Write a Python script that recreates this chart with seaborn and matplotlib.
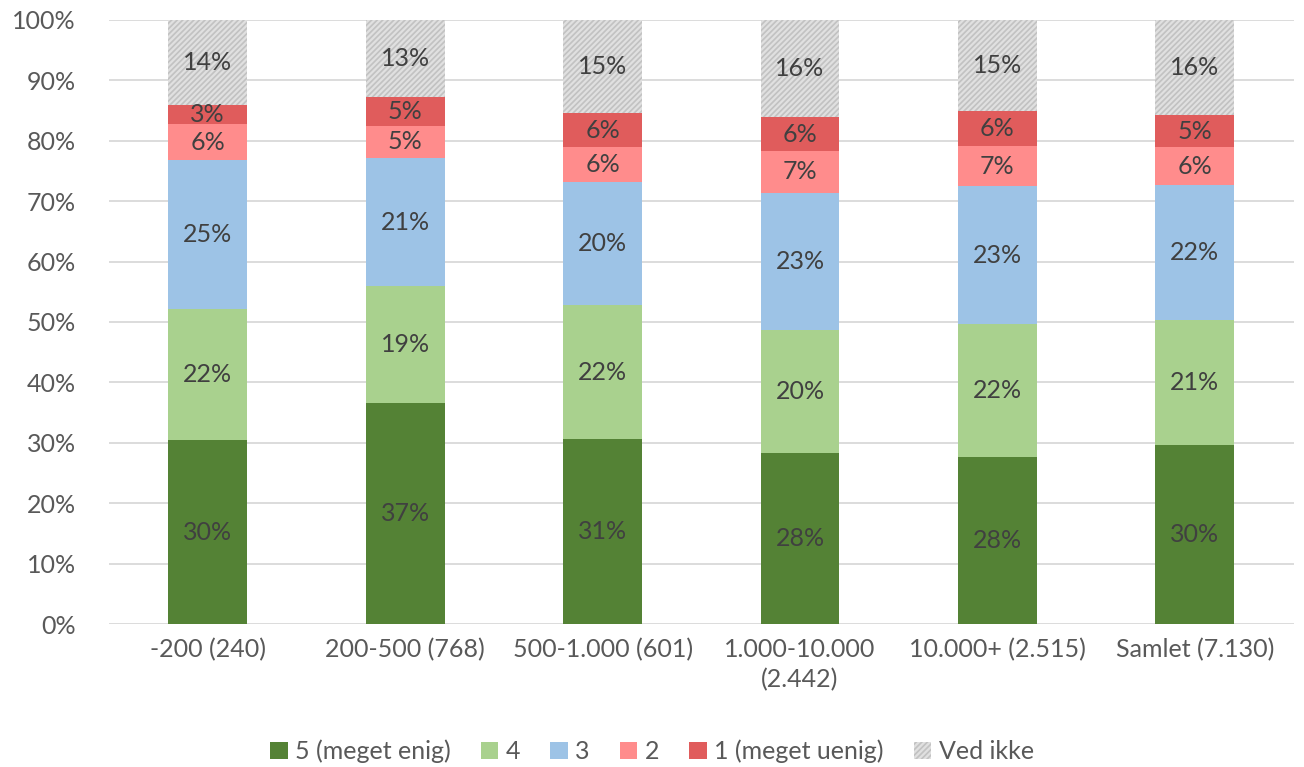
import numpy as np
import pandas as pd
import matplotlib
matplotlib.use('Agg')
import matplotlib.pyplot as plt
from matplotlib.patches import Patch
from matplotlib.ticker import PercentFormatter
import seaborn as sns

# data (percent of respondents)
groups = ['-200 (240)', '200-500 (768)', '500-1.000 (601)',
          '1.000-10.000\n(2.442)', '10.000+ (2.515)', 'Samlet (7.130)']
series_names = ['5 (meget enig)', '4', '3', '2', '1 (meget uenig)', 'Ved ikke']
enig5 = [30.4, 36.6, 30.6, 28.3, 27.6, 29.6]
val4 = [21.8, 19.3, 22.2, 20.4, 22.0, 20.8]
val3 = [24.6, 21.3, 20.3, 22.7, 22.9, 22.2]
val2 = [5.9, 5.3, 5.8, 6.9, 6.6, 6.3]
uenig1 = [3.2, 4.8, 5.7, 5.6, 5.8, 5.3]
ved_ikke = [14.1, 12.7, 15.4, 16.1, 15.1, 15.8]

colors = ['#548235', '#a9d18e', '#9dc3e6', '#ff8c8c', '#e05c5c', '#c2c2c2']
hatch_col = '#e0e0e0'

sns.set_style('white')
plt.rcParams['font.family'] = ['Lato', 'DejaVu Sans']
plt.rcParams['hatch.linewidth'] = 1.6

df = pd.DataFrame({'gruppe': groups})
layers = [enig5, val4, val3, val2, uenig1, ved_ikke]
cum = np.cumsum(np.array(layers), axis=0)

fig = plt.figure(figsize=(13.04, 7.67), dpi=100)
ax = fig.add_axes([0.0836, 0.1864, 0.9084, 0.7876])

# draw cumulative totals from the top layer down so lower layers cover upper ones
for i in range(len(layers) - 1, -1, -1):
    df['v'] = cum[i]
    last = i == len(layers) - 1
    sns.barplot(data=df, x='gruppe', y='v', color=colors[i], saturation=1,
                width=0.4, ax=ax, linewidth=0, zorder=2,
                edgecolor=hatch_col if last else colors[i],
                hatch='//////' if last else None)

# segment labels
for j in range(len(groups)):
    base = 0
    for i, layer in enumerate(layers):
        v = layer[j]
        ax.text(j, base + v / 2, f'{round(v):.0f}%', ha='center', va='center',
                fontsize=18, color='#404040', zorder=3)
        base += v

ax.set_ylim(0, 100)
ax.set_xlim(-0.5, len(groups) - 0.5)
ax.set_yticks(range(0, 101, 10))
ax.yaxis.set_major_formatter(PercentFormatter(decimals=0))
ax.grid(axis='y', color='#d9d9d9', linewidth=1.3, zorder=0)
ax.set_axisbelow(True)
for s in ax.spines.values():
    s.set_visible(False)
ax.set_xlabel('')
ax.set_ylabel('')
ax.tick_params(axis='both', length=0, labelsize=18, labelcolor='#595959')
ax.tick_params(axis='x', pad=10)
ax.tick_params(axis='y', pad=24)
for lab in ax.get_xticklabels():
    lab.set_linespacing(1.35)

handles = []
for i, name in enumerate(series_names):
    last = i == len(series_names) - 1
    handles.append(Patch(facecolor=colors[i], linewidth=0,
                         edgecolor=hatch_col if last else colors[i],
                         hatch='//////' if last else None, label=name))
fig.legend(handles=handles, loc='center', bbox_to_anchor=(0.5, 0.02), ncol=6,
           frameon=False, fontsize=18, labelcolor='#595959',
           handlelength=0.7, handleheight=0.7, handletextpad=0.3, columnspacing=1.2)

fig.savefig('out.png', dpi=100, facecolor='white')
